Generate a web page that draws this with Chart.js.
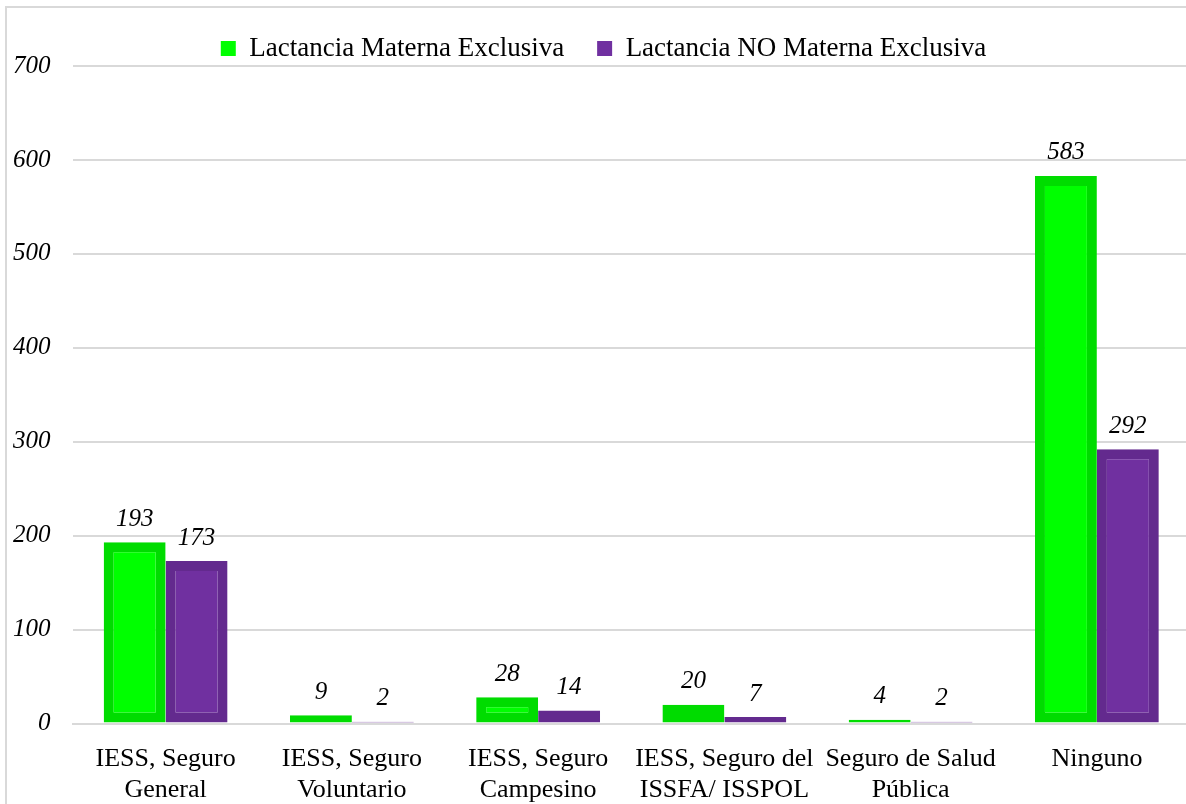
<!DOCTYPE html>
<html>
<head>
<meta charset="utf-8">
<script src="https://cdn.jsdelivr.net/npm/chart.js@4.4.1/dist/chart.umd.min.js"></script>
<style>
    html, body { margin: 0; padding: 0; overflow: hidden; background: #fff; width: 1186px; height: 804px; }
    #wrap { position: relative; width: 1186px; height: 804px; overflow: hidden; }
    #frame { position: absolute; left: 5px; top: 6px; width: 1181px; height: 798px;
             border-left: 2px solid #d9d9d9; border-top: 2px solid #d9d9d9; box-sizing: border-box; }
    #chart { position: absolute; left: -21px; top: 0; }
</style>
</head>
<body>
<div id="wrap">
    <div id="frame"></div>
    <canvas id="chart" width="1213" height="818"></canvas>
</div>
<script>
// Chart data
const categories = [
    ['IESS, Seguro', 'General'],
    ['IESS, Seguro', 'Voluntario'],
    ['IESS, Seguro', 'Campesino'],
    ['IESS, Seguro del', 'ISSFA/ ISSPOL'],
    ['Seguro de Salud', 'Pública'],
    'Ninguno'
];
const seriesNames = ['Lactancia Materna Exclusiva', 'Lactancia NO Materna Exclusiva'];
const exclusiva = [193, 9, 28, 20, 4, 583];
const noExclusiva = [173, 2, 14, 7, 2, 292];
const yTicks = [0, 100, 200, 300, 400, 500, 600, 700];

const serif = "'Liberation Serif', 'Times New Roman', serif";

// Draws the value above each bar
const valueLabels = {
    id: 'valueLabels',
    afterDatasetsDraw(chart) {
        const ctx = chart.ctx;
        ctx.save();
        ctx.font = 'italic 25px ' + serif;
        ctx.fillStyle = '#000';
        ctx.textAlign = 'center';
        ctx.textBaseline = 'middle';
        chart.data.datasets.forEach(function(ds, i) {
            chart.getDatasetMeta(i).data.forEach(function(bar, j) {
                ctx.fillText(ds.data[j], bar.x, bar.y - 23);
            });
        });
        ctx.restore();
    }
};

// Pull the plot area closer to the legend and nudge the legend right
const legendTrim = {
    id: 'legendTrim',
    beforeInit(chart) {
        const fit = chart.legend.fit;
        chart.legend.fit = function() {
            fit.call(this);
            this.height -= 6;
        };
    },
    afterLayout(chart) {
        chart.legend.left += 13;
        chart.legend.right += 13;
    }
};

new Chart(document.getElementById('chart'), {
    type: 'bar',
    data: {
        labels: categories,
        datasets: [{
            label: seriesNames[0],
            data: exclusiva,
            backgroundColor: '#00ff00',
            borderColor: '#00dc00',
            borderWidth: 10,
            borderSkipped: false
        }, {
            label: seriesNames[1],
            data: noExclusiva,
            backgroundColor: '#7030a0',
            borderColor: '#632a8e',
            borderWidth: 10,
            borderSkipped: false
        }]
    },
    options: {
        responsive: false,
        animation: false,
        layout: { padding: { top: 2, left: 12, right: 2, bottom: 0 } },
        datasets: {
            bar: { categoryPercentage: 0.665, barPercentage: 1 }
        },
        plugins: {
            legend: {
                position: 'top',
                labels: {
                    boxWidth: 15,
                    boxHeight: 15,
                    padding: 33,
                    color: '#000',
                    font: { family: serif, size: 27 },
                    generateLabels: function(chart) {
                        return Chart.defaults.plugins.legend.labels.generateLabels(chart).map(function(item) {
                            item.lineWidth = 0;
                            return item;
                        });
                    }
                }
            },
            tooltip: { enabled: false }
        },
        scales: {
            x: {
                grid: { display: false },
                border: { color: '#d9d9d9', width: 2 },
                ticks: {
                    color: '#000',
                    padding: 12,
                    autoSkip: false,
                    maxRotation: 0,
                    minRotation: 0,
                    font: { family: serif, size: 26 }
                }
            },
            y: {
                min: 0,
                max: 700,
                afterBuildTicks: function(axis) {
                    axis.ticks = yTicks.map(v => ({ value: v }));
                },
                grid: { color: '#d9d9d9', lineWidth: 2, drawTicks: false },
                border: { display: false },
                ticks: {
                    color: '#000',
                    padding: 22,
                    font: { family: serif, size: 25, style: 'italic' }
                }
            }
        }
    },
    plugins: [valueLabels, legendTrim]
});
</script>
</body>
</html>
